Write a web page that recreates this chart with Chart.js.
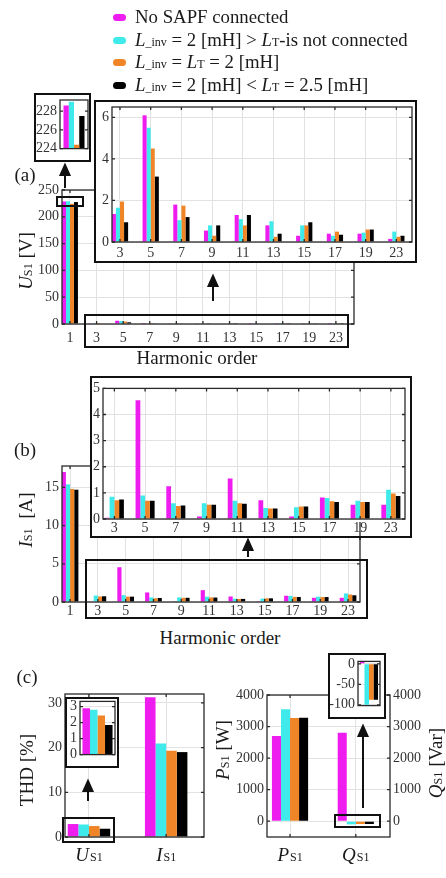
<!DOCTYPE html>
<html lang="en">
<head>
<meta charset="utf-8">
<title>Source voltage / current harmonics with and without SAPF</title>
<script src="https://cdn.jsdelivr.net/npm/chart.js@4.4.1/dist/chart.umd.min.js"></script>
<style>
  html, body { margin: 0; padding: 0; background: #fff; }
  #page { position: relative; width: 446px; height: 878px; overflow: hidden;
          font-family: 'Liberation Serif', 'Times New Roman', serif; color: #1a1a1a; }
  #page canvas { position: absolute; }
  .main { z-index: 1; }
  .box { position: absolute; z-index: 2; border: 2px solid #111; background: #fff; box-sizing: border-box; }
  .inset { z-index: 3; }
  .lbl { position: absolute; z-index: 4; white-space: nowrap; font-size: 19px; line-height: 20px;
         transform: translate(-50%, -50%); }
  .vlbl { position: absolute; z-index: 4; white-space: nowrap; font-size: 19px; line-height: 20px;
          transform: translate(-50%, -50%) rotate(-90deg); }
  .sm { font-size: 0.64em; }
  .legend { position: absolute; left: 113px; top: 6px; z-index: 4; font-size: 18.8px; }
  .legend div { height: 22.7px; line-height: 22px; white-space: nowrap; }
  .sw { display: inline-block; width: 13px; height: 7px; border-radius: 3.5px; margin-right: 9px;
        vertical-align: 2px; }
  svg { position: absolute; left: 0; top: 0; z-index: 5; }
</style>
</head>
<body>
<div id="page">
  <canvas id="chartA" class="main"></canvas>
  <canvas id="chartB" class="main"></canvas>
  <canvas id="chartTHD" class="main"></canvas>
  <canvas id="chartPQ" class="main"></canvas>

  <div class="box" style="left:34px;top:93px;width:57px;height:69px"></div>
  <div class="box" style="left:94px;top:100px;width:323px;height:163px"></div>
  <div class="box" style="left:90px;top:376px;width:322px;height:162px"></div>
  <div class="box" style="left:65px;top:697px;width:54px;height:71px"></div>
  <div class="box" style="left:328px;top:653px;width:58px;height:66px"></div>

  <canvas id="chartAF" class="inset"></canvas>
  <canvas id="chartAH" class="inset"></canvas>
  <canvas id="chartBH" class="inset"></canvas>
  <canvas id="chartTHDi" class="inset"></canvas>
  <canvas id="chartQi" class="inset"></canvas>

  <div class="legend">
    <div><span class="sw"></span>No SAPF connected</div>
    <div><span class="sw"></span><i>L</i><span class="sm">_inv</span> = 2 [mH] &gt; <i>L</i><span class="sm">T</span>-is not connected</div>
    <div><span class="sw"></span><i>L</i><span class="sm">_inv</span> = <i>L</i><span class="sm">T</span> = 2 [mH]</div>
    <div><span class="sw"></span><i>L</i><span class="sm">_inv</span> = 2 [mH] &lt; <i>L</i><span class="sm">T</span> = 2.5 [mH]</div>
  </div>

  <div class="lbl" style="left:25px;top:175px">(a)</div>
  <div class="lbl" style="left:25px;top:450px">(b)</div>
  <div class="lbl" style="left:27px;top:677px">(c)</div>
  <div class="lbl" style="left:197px;top:358px">Harmonic order</div>
  <div class="lbl" style="left:220px;top:638px">Harmonic order</div>
  <div class="vlbl" style="left:27px;top:261px"><i>U</i><span class="sm">S1</span> [V]</div>
  <div class="vlbl" style="left:27px;top:520px"><i>I</i><span class="sm">S1</span>&nbsp;&nbsp;[A]</div>
  <div class="vlbl" style="left:27px;top:770px">THD [%]</div>
  <div class="vlbl" style="left:224px;top:750px"><i>P</i><span class="sm">S1</span> [W]</div>
  <div class="vlbl" style="left:437px;top:763px"><i>Q</i><span class="sm">S1</span> [Var]</div>

  <svg width="446" height="878" viewBox="0 0 446 878">
    <g fill="none" stroke="#111" stroke-width="2">
      <rect x="57" y="197" width="26" height="9"/>
      <rect x="85" y="315" width="263" height="32"/>
      <rect x="86" y="560" width="281" height="58"/>
      <rect x="63" y="818" width="51" height="24"/>
      <rect x="335" y="815" width="45" height="12"/>
      <line x1="360" y1="522" x2="360" y2="540" stroke-width="1.2"/>
    </g>
    <g stroke="#111" stroke-width="2" fill="#111">
      <line x1="65" y1="188" x2="65" y2="173"/><polygon points="65,165 60.5,175 69.5,175"/>
      <line x1="213" y1="301" x2="213" y2="284"/><polygon points="213,276 208.5,286 217.5,286"/>
      <line x1="248" y1="557" x2="248" y2="548"/><polygon points="248,540 243.5,550 252.5,550"/>
      <line x1="88" y1="801" x2="88" y2="789"/><polygon points="88,781 83.5,791 92.5,791"/>
      <line x1="363" y1="808" x2="363" y2="734"/><polygon points="363,726 358.5,736 367.5,736"/>
    </g>
  </svg>
</div>

<script>
'use strict';

// ============================================================================
// DATA
// ============================================================================

const SERIES_NAMES = [
    'No SAPF connected',
    'L_inv = 2 [mH] > LT-is not connected',
    'L_inv = LT = 2 [mH]',
    'L_inv = 2 [mH] < LT = 2.5 [mH]'
];
const SERIES_COLORS = ['#EE1CEE', '#3FEAEA', '#EF8526', '#000000'];

const ORDERS_ALL = ['1', '3', '5', '7', '9', '11', '13', '15', '17', '19', '23'];
const ORDERS_HARM = ['3', '5', '7', '9', '11', '13', '15', '17', '19', '23'];

// (a) source voltage, fundamental [V] per series
const U_FUND = [228.6, 229.0, 224.4, 227.5];
// (a) source voltage harmonics [V], orders 3..23
const U_HARM_NO_SAPF = [1.35, 6.1, 1.8, 0.55, 1.3, 0.8, 0.3, 0.4, 0.4, 0.15];
const U_HARM_NO_LT = [1.65, 5.5, 1.05, 0.8, 1.1, 1.0, 0.8, 0.3, 0.45, 0.5];
const U_HARM_EQUAL = [1.95, 4.5, 1.75, 0.3, 0.8, 0.25, 0.8, 0.5, 0.6, 0.25];
const U_HARM_LT25 = [0.95, 3.15, 1.2, 0.8, 1.3, 0.4, 0.95, 0.35, 0.6, 0.3];

// (b) source current, fundamental [A] per series
const I_FUND = [17.0, 15.4, 14.8, 14.7];
// (b) source current harmonics [A], orders 3..23
const I_HARM_NO_SAPF = [0.05, 4.55, 1.25, 0.1, 1.55, 0.72, 0.1, 0.82, 0.55, 0.55];
const I_HARM_NO_LT = [0.85, 0.9, 0.6, 0.6, 0.7, 0.42, 0.45, 0.8, 0.7, 1.12];
const I_HARM_EQUAL = [0.72, 0.7, 0.5, 0.55, 0.6, 0.4, 0.48, 0.68, 0.65, 0.98];
const I_HARM_LT25 = [0.75, 0.7, 0.52, 0.55, 0.58, 0.4, 0.48, 0.65, 0.65, 0.88];

// (c) THD [%] of U_S1 and I_S1, per series
const THD_U = [2.9, 2.8, 2.45, 1.85];
const THD_I = [31.3, 20.9, 19.3, 19.0];

// (c) active power [W] and reactive power [Var], per series
const P_S1 = [2700, 3550, 3270, 3280];
const Q_S1 = [2800, -100, -88, -88];

const THD_TICKS = [['U', 'S1'], ['I', 'S1']];
const PQ_TICKS = [['P', 'S1'], ['Q', 'S1']];

const U_HARM = [U_HARM_NO_SAPF, U_HARM_NO_LT, U_HARM_EQUAL, U_HARM_LT25];
const I_HARM = [I_HARM_NO_SAPF, I_HARM_NO_LT, I_HARM_EQUAL, I_HARM_LT25];

// ============================================================================
// STYLE
// ============================================================================

const SERIF = "'Liberation Serif', 'Times New Roman', serif";
const TICK_FONT = { family: SERIF, size: 14 };
const TICK_COLOR = '#333';
const GRID_COLOR = '#e2e2e2';
const RICH_TICKS = { chartTHD: THD_TICKS, chartPQ: PQ_TICKS };

/** Box around the plot area with short inward ticks, MATLAB style. */
const axisFrame = {
    id: 'axisFrame',
    afterDatasetsDraw(chart) {
        const { ctx, chartArea: a, scales } = chart;
        ctx.save();
        ctx.strokeStyle = '#2a2a2a';
        ctx.lineWidth = 1.3;
        ctx.strokeRect(a.left, a.top, a.right - a.left, a.bottom - a.top);
        ctx.beginPath();
        scales.y.ticks.forEach(tick => {
            const py = scales.y.getPixelForValue(tick.value);
            ctx.moveTo(a.left, py); ctx.lineTo(a.left + 3, py);
            ctx.moveTo(a.right, py); ctx.lineTo(a.right - 3, py);
        });
        if (scales.x.type === 'linear') {
            scales.x.ticks.forEach(tick => {
                const px = scales.x.getPixelForValue(tick.value);
                ctx.moveTo(px, a.bottom); ctx.lineTo(px, a.bottom - 3);
                ctx.moveTo(px, a.top); ctx.lineTo(px, a.top + 3);
            });
        }
        ctx.stroke();
        ctx.restore();
    }
};

/** Tick labels like "U" + subscript "S1" under the category positions. */
const richTicks = {
    id: 'richTicks',
    afterDraw(chart) {
        const items = RICH_TICKS[chart.canvas.id];
        if (!items) return;
        const { ctx, chartArea } = chart;
        const xScale = chart.scales.x;
        ctx.save();
        ctx.fillStyle = '#1a1a1a';
        ctx.textAlign = 'left';
        ctx.textBaseline = 'alphabetic';
        xScale.ticks.forEach((tick, i) => {
            const [main, sub] = items[i];
            ctx.font = 'italic 19px ' + SERIF;
            const w1 = ctx.measureText(main).width;
            ctx.font = '12px ' + SERIF;
            const w2 = ctx.measureText(sub).width;
            const left = xScale.getPixelForValue(tick.value) - (w1 + w2 + 1) / 2;
            const base = chartArea.bottom + 24;
            ctx.font = 'italic 19px ' + SERIF;
            ctx.fillText(main, left, base);
            ctx.font = '12px ' + SERIF;
            ctx.fillText(sub, left + w1 + 1, base);
        });
        ctx.restore();
    }
};

Chart.register(axisFrame, richTicks);

// ============================================================================
// HELPERS
// ============================================================================

function seriesSets(rows, catPct, asPoints) {
    return rows.map((vals, k) => ({
        label: SERIES_NAMES[k],
        data: asPoints ? vals.map((v, i) => ({ x: i, y: v })) : vals,
        backgroundColor: SERIES_COLORS[k],
        borderWidth: 0,
        barPercentage: 1,
        categoryPercentage: catPct,
        clip: 0
    }));
}

function indexAxis(labels, min, max, pad, showLabels) {
    return {
        type: 'linear', min, max, bounds: 'data', offset: false,
        grid: { color: GRID_COLOR, drawTicks: false, offset: false },
        border: { display: false },
        ticks: {
            display: showLabels, font: TICK_FONT, color: TICK_COLOR, padding: pad,
            autoSkip: false, maxRotation: 0, callback: (v, i) => labels[i]
        },
        afterBuildTicks: scale => { scale.ticks = labels.map((_, i) => ({ value: i })); }
    };
}

function singleAxis() {
    return {
        type: 'category', offset: true,
        grid: { display: false, drawTicks: false }, border: { display: false },
        ticks: { display: false }
    };
}

/** Multiples of step inside [min, max]. */
function stepsWithin(min, max, step) {
    const out = [];
    for (let n = Math.ceil(min / step - 1e-9); n * step <= max + 1e-9; n++) {
        out.push(Math.round(n * step * 1000) / 1000);
    }
    return out;
}

function valueAxis(min, max, step, extra) {
    const values = stepsWithin(min, max, step);
    return Object.assign({
        type: 'linear', min, max, bounds: 'data',
        grid: { color: GRID_COLOR, drawTicks: false },
        border: { display: false },
        ticks: {
            autoSkip: false, font: TICK_FONT, color: TICK_COLOR,
            padding: 3, callback: v => String(v)
        },
        afterBuildTicks: scale => { scale.ticks = values.map(v => ({ value: v })); }
    }, extra || {});
}

/**
 * Places a canvas so its plot area lands on the given page box, then draws.
 * m: y-axis width (left), x-axis height (bottom), top padding, right padding / right axis width.
 */
function build(id, plot, m, data, scales) {
    const canvas = document.getElementById(id);
    canvas.width = plot.right - plot.left + m.left + m.right;
    canvas.height = plot.bottom - plot.top + m.top + m.bottom;
    canvas.style.left = (plot.left - m.left) + 'px';
    canvas.style.top = (plot.top - m.top) + 'px';
    scales.x.afterFit = scale => { scale.height = m.bottom; };
    scales.y.afterFit = scale => { scale.width = m.left; };
    if (scales.y2) scales.y2.afterFit = scale => { scale.width = m.right; };
    return new Chart(canvas, {
        type: 'bar',
        data,
        options: {
            responsive: false,
            animation: false,
            devicePixelRatio: 1,
            layout: { padding: { top: m.top, right: scales.y2 ? 0 : m.right, left: 0, bottom: 0 } },
            plugins: { legend: { display: false }, tooltip: { enabled: false } },
            scales
        }
    });
}

// ============================================================================
// LEGEND
// ============================================================================

document.querySelectorAll('.legend .sw').forEach((el, k) => {
    el.style.background = SERIES_COLORS[k];
});

// ============================================================================
// (a) SOURCE VOLTAGE
// ============================================================================

build('chartA', { left: 62, top: 190, right: 354, bottom: 324 },
    { left: 40, top: 12, right: 12, bottom: 22 },
    { datasets: seriesSets(U_HARM.map((row, k) => [U_FUND[k], ...row]), 0.6, true) },
    { x: indexAxis(ORDERS_ALL, -0.3, 10.68, 6, true), y: valueAxis(0, 250, 50) });

build('chartAF', { left: 60, top: 100, right: 88, bottom: 154 },
    { left: 25, top: 12, right: 2, bottom: 6 },
    { labels: ['1'], datasets: seriesSets(U_FUND.map(v => [v]), 0.75, false) },
    { x: singleAxis(), y: valueAxis(224, 229.2, 2, { grid: { display: false, drawTicks: false } }) });

build('chartAH', { left: 112, top: 107, right: 412, bottom: 242 },
    { left: 16, top: 12, right: 3, bottom: 19 },
    { datasets: seriesSets(U_HARM, 0.53, true) },
    { x: indexAxis(ORDERS_HARM, -0.26, 9.51, 3, true), y: valueAxis(0, 6.5, 2) });

// ============================================================================
// (b) SOURCE CURRENT
// ============================================================================

build('chartB', { left: 62, top: 466, right: 360, bottom: 602 },
    { left: 40, top: 12, right: 12, bottom: 20 },
    { datasets: seriesSets(I_HARM.map((row, k) => [I_FUND[k], ...row]), 0.6, true) },
    { x: indexAxis(ORDERS_ALL, -0.29, 10.43, 1, true), y: valueAxis(0, 17.8, 5) });

build('chartBH', { left: 103, top: 387, right: 405, bottom: 519 },
    { left: 11, top: 10, right: 5, bottom: 17 },
    { datasets: seriesSets(I_HARM, 0.62, true) },
    { x: indexAxis(ORDERS_HARM, -0.37, 9.46, 1, true), y: valueAxis(0, 5, 1) });

// ============================================================================
// (c) THD AND POWERS
// ============================================================================

build('chartTHD', { left: 65, top: 694, right: 204, bottom: 837 },
    { left: 34, top: 12, right: 12, bottom: 32 },
    { datasets: seriesSets(THD_U.map((u, k) => [u, THD_I[k]]), 0.55, true) },
    { x: indexAxis(THD_TICKS, -0.31, 1.49, 4, false), y: valueAxis(0, 32, 10) });

build('chartTHDi', { left: 80, top: 700, right: 115, bottom: 760 },
    { left: 13, top: 10, right: 2, bottom: 6 },
    { labels: ['US1'], datasets: seriesSets(THD_U.map(v => [v]), 0.86, false) },
    { x: singleAxis(), y: valueAxis(0, 3.33, 1) });

build('chartPQ', { left: 267, top: 695, right: 390, bottom: 837 },
    { left: 42, top: 12, right: 42, bottom: 32 },
    { datasets: seriesSets(P_S1.map((p, k) => [p, Q_S1[k]]), 0.55, true) },
    {
        x: indexAxis(PQ_TICKS, -0.35, 1.52, 4, false),
        y: valueAxis(-500, 4000, 1000),
        y2: valueAxis(-500, 4000, 1000, { position: 'right', grid: { display: false, drawTicks: false } })
    });

build('chartQi', { left: 358, top: 660, right: 380, bottom: 710 },
    { left: 28, top: 10, right: 4, bottom: 7 },
    { labels: ['QS1'], datasets: seriesSets(Q_S1.map(v => [v]), 0.82, false) },
    { x: singleAxis(), y: valueAxis(-102, 6, 50) });
</script>
</body>
</html>
